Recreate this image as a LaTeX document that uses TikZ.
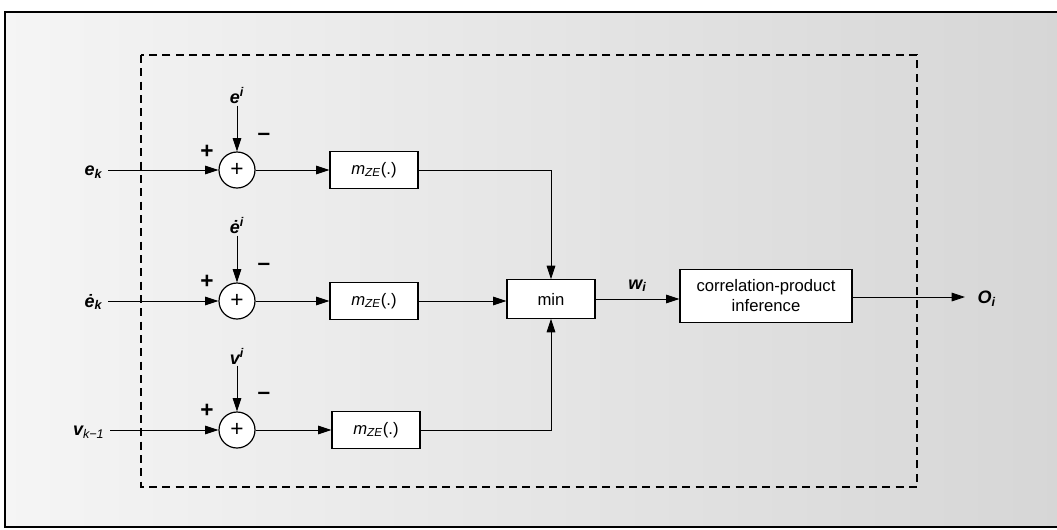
\documentclass[tikz,border=0pt]{standalone}
\usepackage{fontspec}
\setmainfont{Liberation Sans}
\usetikzlibrary{arrows.meta}
\begin{document}
\begin{tikzpicture}[x=0.75pt,y=-0.75pt,
  font=\fontsize{12.5}{15}\selectfont,
  arr/.style={-{Triangle[length=10pt,width=6.5pt]}, line width=0.6pt},
  fbox/.style={draw, fill=white, line width=0.9pt, minimum width=66pt, minimum height=28pt, inner sep=2pt},
  sumnode/.style={draw, circle, fill=white, line width=0.9pt, minimum size=27pt, inner sep=0pt, font=\fontsize{17}{18}\selectfont},
  lbl/.style={font=\fontsize{13.5}{16}\selectfont\bfseries\itshape, inner sep=1pt},
  sgn/.style={font=\fontsize{17}{18}\selectfont\bfseries, inner sep=0pt},
  dashbox/.style={dash pattern=on 6pt off 4pt, line width=1.1pt}
]
\useasboundingbox (0,0) rectangle (1057,529);
% background
\shade[left color=gray!8, right color=gray!32] (5,12) rectangle (1057,527);
\draw[line width=1.5pt] (1057,12) -- (5,12) -- (5,527) -- (1057,527);
% dashed block
\draw[dashbox] (141,55) rectangle (917,487);

% row nodes
\node[sumnode] (s1) at (237,170) {+};
\node[sumnode] (s2) at (237,301) {+};
\node[sumnode] (s3) at (237,430) {+};
\node[fbox] (m1) at (374,170) {\textit{m}\textsubscript{\textit{ZE}}(.)};
\node[fbox] (m2) at (374,301) {\textit{m}\textsubscript{\textit{ZE}}(.)};
\node[fbox] (m3) at (376,430) {\textit{m}\textsubscript{\textit{ZE}}(.)};
\node[fbox, minimum height=29pt] (mn) at (551,299) {min};
\node[draw, fill=white, line width=0.9pt, minimum width=129pt, minimum height=40pt, align=center, inner sep=2pt] (cp) at (766,296) {correlation-product\\inference};

% inputs
\node[lbl, anchor=east] (ek) at (104,172) {e\textsubscript{k}};
\node[lbl, anchor=east] (edk) at (104,302) {\.e\textsubscript{k}};
\node[lbl, anchor=east, font=\fontsize{13.5}{16}\selectfont\itshape] (vk) at (106,432) {\textbf{v}\textsubscript{k−1}};
\coordinate (i1) at (108,170);
\coordinate (i2) at (108,301);
\coordinate (i3) at (110,430);

\node[lbl] (ei) at (237,96) {e\textsuperscript{i}};
\node[lbl] (edi) at (237,226) {\.e\textsuperscript{i}};
\node[lbl] (vi) at (237,356) {v\textsuperscript{i}};

% signs
\node[sgn] (p1) at (207,152) {+};
\node[sgn] (n1) at (264,137) {–};
\node[sgn] (p2) at (207,282) {+};
\node[sgn] (n2) at (264,267) {–};
\node[sgn] (p3) at (207,411) {+};
\node[sgn] (n3) at (264,396) {–};

% connectors
\draw[arr] (i1) -- (s1);
\draw[arr] (i2) -- (s2);
\draw[arr] (i3) -- (s3);
\draw[arr] (ei) -- (s1);
\draw[arr] (edi) -- (s2);
\draw[arr] (vi) -- (s3);
\draw[arr] (s1) -- (m1);
\draw[arr] (s2) -- (m2);
\draw[arr] (s3) -- (m3);
\draw[arr] (m1.east) -| (mn.north);
\draw[arr] (m2.east) -- (m2.east -| mn.west);
\draw[arr] (m3.east) -| (mn.south);
\draw[arr] (mn.east) -- (mn.east -| cp.west) node[midway, above=4pt, lbl] (wi) {w\textsubscript{i}};
\coordinate (out) at (965,297);
\draw[arr] (cp.east |- out) -- (out);
\node[lbl, anchor=west] (oi) at (976,299) {O\textsubscript{i}};
\end{tikzpicture}
\end{document}
